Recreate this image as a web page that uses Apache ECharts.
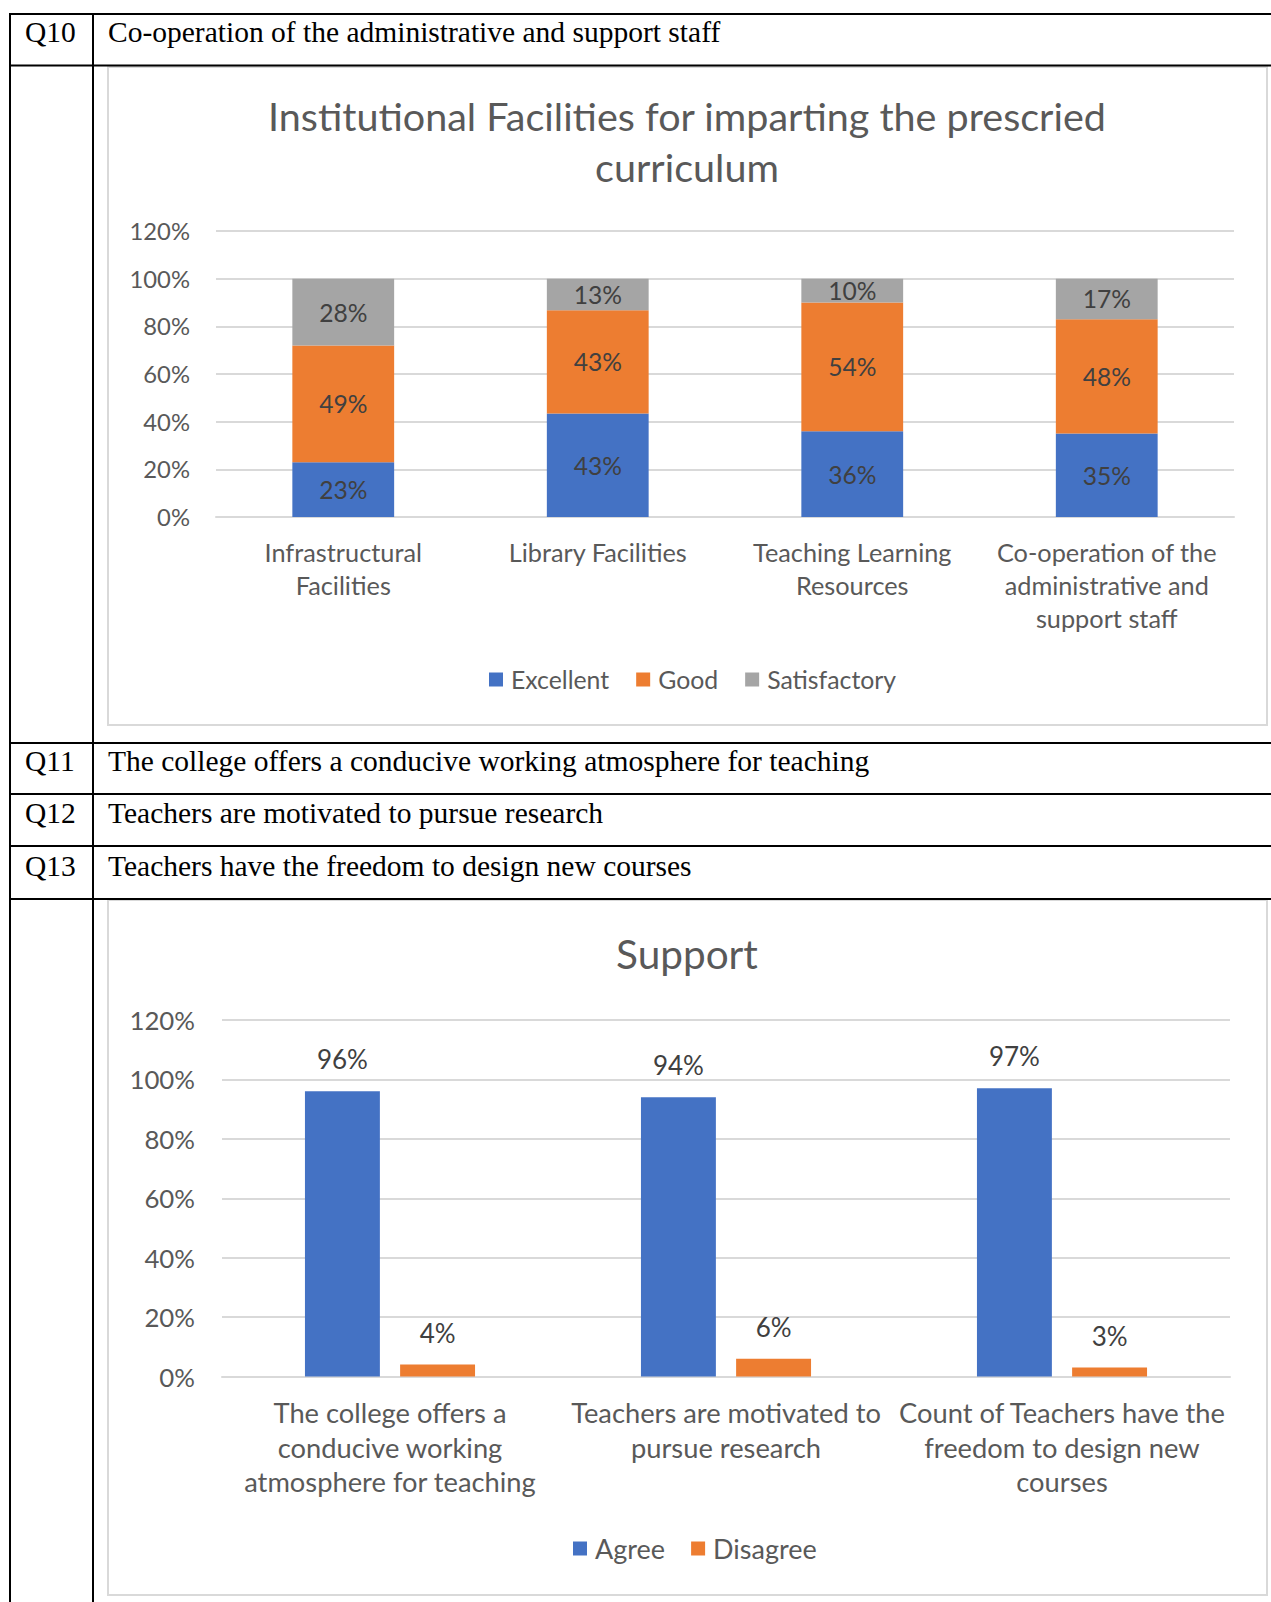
<!DOCTYPE html>
<html><head><meta charset="utf-8">
<script src="https://cdn.jsdelivr.net/npm/echarts@6/dist/echarts.min.js"></script>
<style>html,body{margin:0;padding:0;background:#fff;} #c{width:1271px;height:1602px;}</style>
</head><body><div id="c"></div>
<script>
// ---- data ----
const questionIds = ['Q10', 'Q11', 'Q12', 'Q13'];
const questionTexts = [
  'Co-operation of the administrative and support staff',
  'The college offers a conducive working atmosphere for teaching',
  'Teachers are motivated to pursue research',
  'Teachers have the freedom to design new courses'
];
const facilityTitle = 'Institutional Facilities for imparting the prescried\ncurriculum';
const facilityCategories = ['Infrastructural\nFacilities', 'Library Facilities', 'Teaching Learning\nResources', 'Co-operation of the\nadministrative and\nsupport staff'];
const facilitySeries = ['Excellent', 'Good', 'Satisfactory'];
const excellent = [23, 43.4, 36, 35];
const good = [49, 43.4, 54, 48];
const satisfactory = [28, 13.2, 10, 17];

const supportTitle = 'Support';
const supportCategories = ['The college offers a\nconducive working\natmosphere for teaching', 'Teachers are motivated to\npursue research', 'Count of Teachers have the\nfreedom to design new\ncourses'];
const supportSeries = ['Agree', 'Disagree'];
const agree = [96, 94, 97];
const disagree = [4, 6, 3];

const axisMin = 0, axisMax = 120, axisStep = 20;

// ---- style ----
const FONT = 'Lato';
const GREY = '#595959';
const LABEL = '#404040';
const GRID = '#d9d9d9';
const COLORS = ['#4472C4', '#ED7D31', '#A5A5A5'];
const pct = p => Math.round(p.value) + '%';

const chart = echarts.init(document.getElementById('c'), null, {renderer: 'svg', width: 1271, height: 1602});

// table lines & text
const hLines = [14, 65.5, 743, 794, 846, 899];
const graphics = [];
hLines.forEach(y => graphics.push({type: 'line', shape: {x1: 9, y1: y, x2: 1271, y2: y}, style: {stroke: '#000', lineWidth: 2}, z: 10}));
[10, 93].forEach(x => graphics.push({type: 'line', shape: {x1: x, y1: 13, x2: x, y2: 1602}, style: {stroke: '#000', lineWidth: 2}, z: 10}));
const rowY = [34, 763, 815, 868];
questionIds.forEach((q, i) => {
  graphics.push({type: 'text', left: 25, top: rowY[i] - 17, style: {text: q, font: '29.5px "Liberation Serif"', fill: '#000'}});
  graphics.push({type: 'text', left: 108, top: rowY[i] - 17, style: {text: questionTexts[i], font: '29.5px "Liberation Serif"', fill: '#000'}});
});
// chart boxes
graphics.push({type: 'rect', shape: {x: 108, y: 67, width: 1159, height: 658}, style: {fill: 'none', stroke: GRID, lineWidth: 2}});
graphics.push({type: 'rect', shape: {x: 108, y: 900, width: 1159, height: 695}, style: {fill: 'none', stroke: GRID, lineWidth: 2}});

const commonY = (idx, size, margin) => ({
  type: 'value', gridIndex: idx, min: axisMin, max: axisMax, interval: axisStep,
  axisLine: {show: false}, axisTick: {show: false},
  axisLabel: {formatter: '{value}%', color: GREY, fontFamily: FONT, fontSize: size, margin: margin},
  splitLine: {lineStyle: {color: GRID, width: 2}}
});
const commonX = (idx, cats, size, lh, margin) => ({
  type: 'category', gridIndex: idx, data: cats,
  axisLine: {lineStyle: {color: GRID, width: 2}}, axisTick: {show: false},
  axisLabel: {color: GREY, fontFamily: FONT, fontSize: size, lineHeight: lh, margin: margin, interval: 0, verticalAlign: 'top'}
});

const option = {
  animation: false,
  backgroundColor: '#fff',
  graphic: graphics,
  title: [
    {text: facilityTitle, left: 687, top: 90, textAlign: 'center', padding: 0,
     textStyle: {fontFamily: FONT, fontSize: 39.5, fontWeight: 'normal', color: GREY, lineHeight: 51}},
    {text: supportTitle, left: 687, top: 930, textAlign: 'center', padding: 0,
     textStyle: {fontFamily: FONT, fontSize: 40.5, fontWeight: 'normal', color: GREY, lineHeight: 46}}
  ],
  legend: [
    {data: facilitySeries, left: 489, top: 667, padding: 0, itemWidth: 14, itemHeight: 14, itemGap: 27, icon: 'rect',
     textStyle: {fontFamily: FONT, fontSize: 24.8, color: GREY, lineHeight: 24, padding: [0, 0, 0, 3]}},
    {data: supportSeries, left: 573, top: 1535, padding: 0, itemWidth: 14, itemHeight: 14, itemGap: 26, icon: 'rect',
     textStyle: {fontFamily: FONT, fontSize: 27, color: GREY, lineHeight: 24, padding: [0, 0, 0, 3]}}
  ],
  grid: [
    {left: 216, right: 37, top: 231, bottom: 1602 - 517},
    {left: 222, right: 41, top: 1020, bottom: 1602 - 1376.5}
  ],
  xAxis: [commonX(0, facilityCategories, 25.3, 33, 18), commonX(1, supportCategories, 27.3, 34.5, 19)],
  yAxis: [commonY(0, 23.8, 26), commonY(1, 25.8, 27)],
  series: [
    {name: 'Excellent', type: 'bar', stack: 'f', xAxisIndex: 0, yAxisIndex: 0, data: excellent, barWidth: '40%', itemStyle: {color: COLORS[0]},
     label: {show: true, position: 'inside', formatter: pct, color: LABEL, fontFamily: FONT, fontSize: 24.6}},
    {name: 'Good', type: 'bar', stack: 'f', xAxisIndex: 0, yAxisIndex: 0, data: good, barWidth: '40%', itemStyle: {color: COLORS[1]},
     label: {show: true, position: 'inside', formatter: pct, color: LABEL, fontFamily: FONT, fontSize: 24.6}},
    {name: 'Satisfactory', type: 'bar', stack: 'f', xAxisIndex: 0, yAxisIndex: 0, data: satisfactory, barWidth: '40%', itemStyle: {color: COLORS[2]},
     label: {show: true, position: 'inside', formatter: pct, color: LABEL, fontFamily: FONT, fontSize: 24.6}},
    {name: 'Agree', type: 'bar', xAxisIndex: 1, yAxisIndex: 1, data: agree, barWidth: '22.3%', barGap: '27%', itemStyle: {color: COLORS[0]},
     label: {show: true, position: 'top', distance: 19, formatter: pct, color: LABEL, fontFamily: FONT, fontSize: 26}},
    {name: 'Disagree', type: 'bar', xAxisIndex: 1, yAxisIndex: 1, data: disagree, barWidth: '22.3%', barGap: '27%', itemStyle: {color: COLORS[1]},
     label: {show: true, position: 'top', distance: 19, formatter: pct, color: LABEL, fontFamily: FONT, fontSize: 26}}
  ]
};
chart.setOption(option);
</script></body></html>
